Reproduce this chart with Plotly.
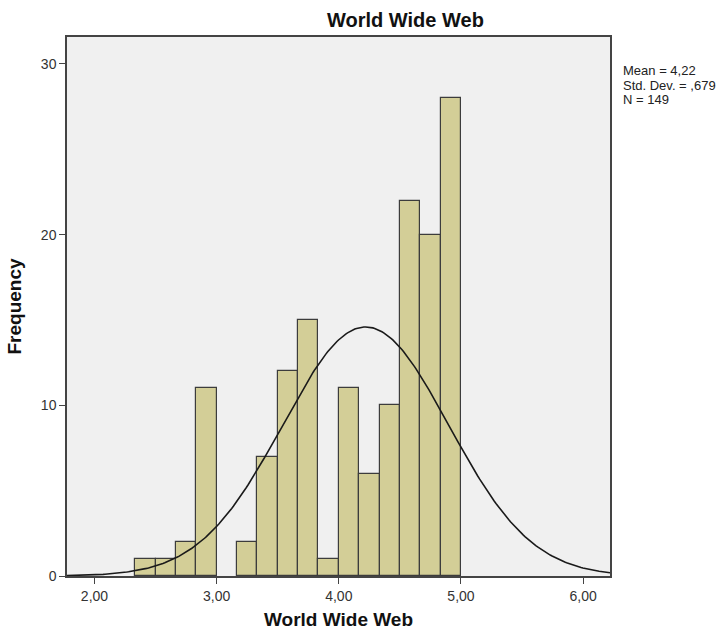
import math
import plotly.graph_objects as go

# Histogram of "World Wide Web" scores, bins of width 1/6 starting at 2 1/3
bin_start = 2 + 1 / 3
bin_width = 1 / 6
counts = [1, 1, 2, 11, 0, 2, 7, 12, 15, 1, 11, 6, 10, 22, 20, 28]

# Summary statistics shown in the side box
mean = 4.22
std_dev = 0.679
n_obs = 149

x_ticks = [2, 3, 4, 5, 6]
y_ticks = [0, 10, 20, 30]

stats_lines = [
    "Mean = " + f"{mean:.2f}".replace(".", ","),
    "Std. Dev. = " + f"{std_dev:.3f}".lstrip("0").replace(".", ","),
    f"N = {n_obs}",
]

centers = [bin_start + bin_width * (i + 0.5) for i in range(len(counts))]
outline_widths = [1.2 if c > 0 else 0 for c in counts]

# Fitted normal curve scaled to frequency units
x_min, x_max = 1.775, 6.22
steps = 300
curve_x = [x_min + (x_max - x_min) * i / steps for i in range(steps + 1)]
scale = n_obs * bin_width / (std_dev * math.sqrt(2 * math.pi))
curve_y = [scale * math.exp(-0.5 * ((x - mean) / std_dev) ** 2) for x in curve_x]

font_family = "Liberation Sans, Arial, sans-serif"

W, H = 725, 639
ML, MR, MT, MB = 67, 115, 37, 60
plot_w = W - ML - MR
plot_h = H - MT - MB


def px_to_paper(px, py):
    return (px - ML) / plot_w, 1 - (py - MT) / plot_h


fig = go.Figure()
fig.add_trace(go.Bar(
    x=centers,
    y=counts,
    width=bin_width,
    marker=dict(color="#d3ce97", line=dict(color="#3c3c3c", width=outline_widths)),
    hoverinfo="x+y",
))
fig.add_trace(go.Scatter(
    x=curve_x,
    y=curve_y,
    mode="lines",
    line=dict(color="#1a1a1a", width=1.6),
    hoverinfo="skip",
))

annotations = []
tx, ty = px_to_paper(405, 20)
annotations.append(dict(
    text="<b>World Wide Web</b>", x=tx, y=ty, xref="paper", yref="paper",
    xanchor="center", yanchor="middle", showarrow=False,
    font=dict(family=font_family, size=20, color="#111111"),
))
for i, line in enumerate(stats_lines):
    sx, sy = px_to_paper(621, 71 + 14.5 * i)
    annotations.append(dict(
        text=line, x=sx, y=sy, xref="paper", yref="paper",
        xanchor="left", yanchor="middle", align="left", showarrow=False,
        font=dict(family=font_family, size=13, color="#222222"),
    ))

fig.update_layout(
    width=W,
    height=H,
    margin=dict(l=ML, r=MR, t=MT, b=MB),
    paper_bgcolor="white",
    plot_bgcolor="#f0f0f0",
    showlegend=False,
    separators=",.",
    font=dict(family=font_family, size=14, color="#333333"),
    bargap=0,
    xaxis=dict(
        range=[x_min, x_max],
        tickvals=x_ticks,
        tickformat=".2f",
        ticks="outside",
        ticklen=6,
        tickcolor="#444444",
        showgrid=False,
        zeroline=False,
        showline=True,
        linecolor="#444444",
        linewidth=1.5,
        mirror=True,
        title=dict(text="<b>World Wide Web</b>",
                   font=dict(family=font_family, size=19, color="#111111"),
                   standoff=10),
    ),
    yaxis=dict(
        range=[0, 31.58],
        tickvals=y_ticks,
        ticks="outside",
        ticklen=6,
        tickcolor="#444444",
        showgrid=False,
        zeroline=False,
        showline=True,
        linecolor="#444444",
        linewidth=1.5,
        mirror=True,
        title=dict(text="<b>Frequency</b>",
                   font=dict(family=font_family, size=19, color="#111111"),
                   standoff=14),
    ),
    annotations=annotations,
)

fig.write_html("out.html")
